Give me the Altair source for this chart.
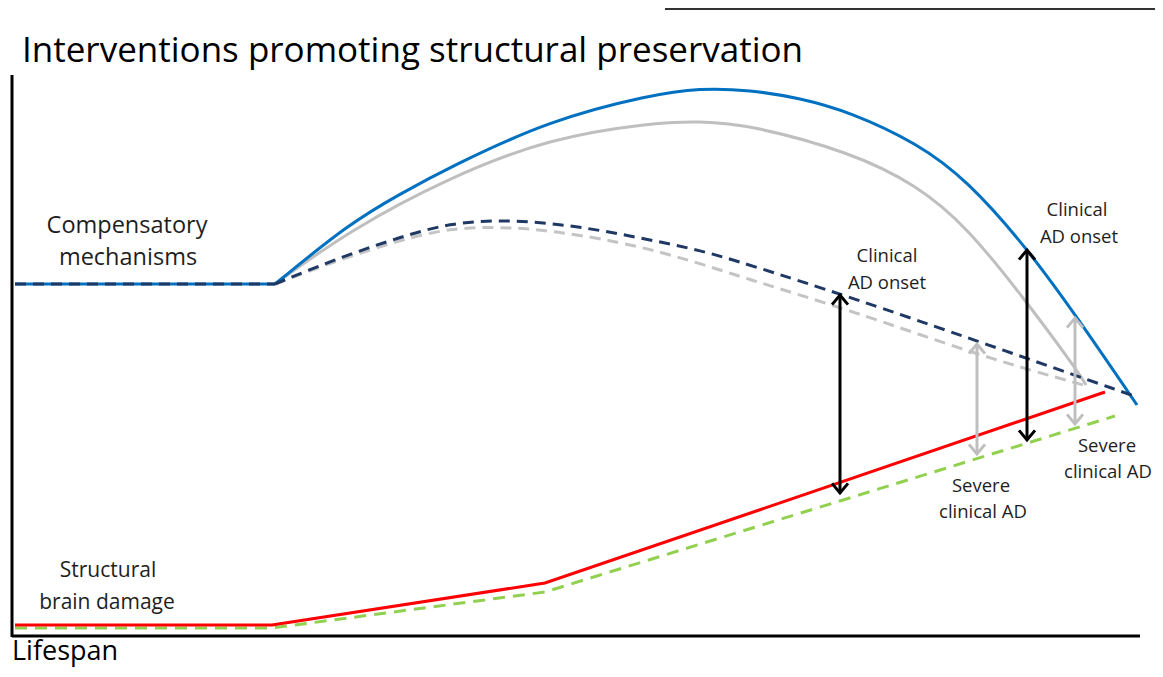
import altair as alt
import pandas as pd

# ---- curve data (image-pixel units: x to the right, y downward) ----
# flat baseline of the compensatory curves
comp_flat_x = [15, 275]
comp_flat_y = [284, 284]

blue_x = [275, 350, 400, 450, 550, 650, 700, 750, 800, 850, 917, 967, 1027, 1077, 1137]
blue_y = [284, 223, 194, 167, 120, 95, 88, 90, 98, 112, 143, 180, 248, 317, 405]

gray_x = [275, 350, 450, 550, 650, 700, 750, 850, 917, 967, 1023, 1077, 1086]
gray_y = [284, 230, 177, 138, 123, 121, 125, 152, 185, 227, 297, 370, 385]

navy_x = [275, 333, 400, 450, 500, 550, 600, 650, 700, 750, 850, 983, 1137]
navy_y = [284, 260, 237, 223, 220, 223, 230, 240, 250, 265, 297, 343, 397]

grayd_x = [275, 333, 400, 450, 500, 550, 650, 750, 850, 983, 1087]
grayd_y = [284, 262, 240, 228, 227, 230, 247, 280, 310, 357, 386]

red_x = [15, 272, 545, 1105]
red_y = [625, 625, 583, 392]

green_x = [15, 272, 545, 1115]
green_y = [628, 628, 592, 416]

# arrows: x, top, bottom
black_arrows = {"x": [840, 1027], "top": [295, 250], "bottom": [493, 440]}
gray_arrows = {"x": [977, 1075], "top": [344, 318], "bottom": [454, 424]}

# labels
left_labels = {
    "text": ["Compensatory", "mechanisms"],
    "x": [127, 128],
    "y": [233, 265],
}
left_labels2 = {
    "text": ["Structural", "brain damage"],
    "x": [108, 107],
    "y": [577, 609],
}
right_labels = {
    "text": ["Clinical", "AD onset", "Clinical", "AD onset",
             "Severe", "clinical AD", "Severe", "clinical AD"],
    "x": [887, 887, 1077, 1079, 981, 983, 1107, 1108],
    "y": [262, 289, 216, 243, 492, 518, 452, 478],
}
title_text = "Interventions promoting structural preservation"
xlabel_text = "Lifespan"

# axes frame
axis_v = {"x": [12], "y": [75], "y2": [637]}
axis_h = {"x": [12], "x2": [1140], "y": [636]}
box_edge = {"x": [665], "x2": [1163], "y": [9]}

W, H = 1147, 661
xs = alt.Scale(domain=[8, 8 + W], nice=False, zero=False)
ys = alt.Scale(domain=[8, 8 + H], nice=False, zero=False, reverse=True)


def line_layer(xv, yv, color, width=3, dash=None, interp="basis"):
    df = pd.DataFrame({"x": xv, "y": yv})
    kw = dict(color=color, strokeWidth=width, interpolate=interp)
    if dash:
        kw["strokeDash"] = dash
    return alt.Chart(df).mark_line(**kw).encode(
        x=alt.X("x:Q", scale=xs, axis=None),
        y=alt.Y("y:Q", scale=ys, axis=None),
    )


def arrow_layers(d, color):
    df = pd.DataFrame(d)
    shaft = alt.Chart(df).mark_rule(color=color, strokeWidth=3).encode(
        x=alt.X("x:Q", scale=xs, axis=None),
        y=alt.Y("top:Q", scale=ys, axis=None),
        y2="bottom:Q",
    )
    up = alt.Chart(df).mark_point(
        shape="M -1 1.2 L 0 0 L 1 1.2", filled=False, size=256,
        strokeWidth=3, color=color, opacity=1,
    ).encode(x=alt.X("x:Q", scale=xs, axis=None), y=alt.Y("top:Q", scale=ys, axis=None))
    down = alt.Chart(df).mark_point(
        shape="M -1 -1.2 L 0 0 L 1 -1.2", filled=False, size=256,
        strokeWidth=3, color=color, opacity=1,
    ).encode(x=alt.X("x:Q", scale=xs, axis=None), y=alt.Y("bottom:Q", scale=ys, axis=None))
    return [shaft, up, down]


def text_layer(d, size, align="center", color="#1e1e1e"):
    df = pd.DataFrame(d)
    return alt.Chart(df).mark_text(
        font="Open Sans", fontSize=size, align=align, baseline="alphabetic", color=color
    ).encode(
        x=alt.X("x:Q", scale=xs, axis=None),
        y=alt.Y("y:Q", scale=ys, axis=None),
        text="text:N",
    )


layers = [
    line_layer(gray_x, gray_y, "#BFBFBF"),
    line_layer(grayd_x, grayd_y, "#C4C4C4", dash=[11, 7]),
    line_layer(comp_flat_x, comp_flat_y, "#0070C0", interp="linear"),
    line_layer(blue_x, blue_y, "#0070C0"),
    line_layer(comp_flat_x, comp_flat_y, "#1F3864", dash=[11, 7], interp="linear"),
    line_layer(navy_x, navy_y, "#1F3864", dash=[11, 7]),
    line_layer(green_x, green_y, "#92D050", dash=[12, 8], interp="linear"),
    line_layer(red_x, red_y, "#FF0000", interp="linear"),
]
layers += arrow_layers(gray_arrows, "#BFBFBF")
layers += arrow_layers(black_arrows, "#000000")

layers.append(
    alt.Chart(pd.DataFrame(axis_v)).mark_rule(color="black", strokeWidth=3).encode(
        x=alt.X("x:Q", scale=xs, axis=None), y=alt.Y("y:Q", scale=ys, axis=None), y2="y2:Q"
    )
)
layers.append(
    alt.Chart(pd.DataFrame(axis_h)).mark_rule(color="black", strokeWidth=3).encode(
        x=alt.X("x:Q", scale=xs, axis=None), x2="x2:Q", y=alt.Y("y:Q", scale=ys, axis=None)
    )
)
layers.append(
    alt.Chart(pd.DataFrame(box_edge)).mark_rule(color="#333333", strokeWidth=2, clip=True).encode(
        x=alt.X("x:Q", scale=xs, axis=None), x2="x2:Q", y=alt.Y("y:Q", scale=ys, axis=None)
    )
)

layers.append(text_layer(left_labels, 23.5))
layers.append(text_layer(left_labels2, 21))
layers.append(text_layer(right_labels, 18.5))
layers.append(text_layer({"text": [title_text], "x": [22], "y": [62]}, 35, align="left", color="#000000"))
layers.append(text_layer({"text": [xlabel_text], "x": [12], "y": [660]}, 27, align="left", color="#000000"))

chart = alt.layer(*layers).properties(
    width=W, height=H, padding=0, autosize=alt.AutoSizeParams(type="none")
).configure_view(stroke=None)

chart.save("out.html", embed_options={"renderer": "svg", "actions": False})
